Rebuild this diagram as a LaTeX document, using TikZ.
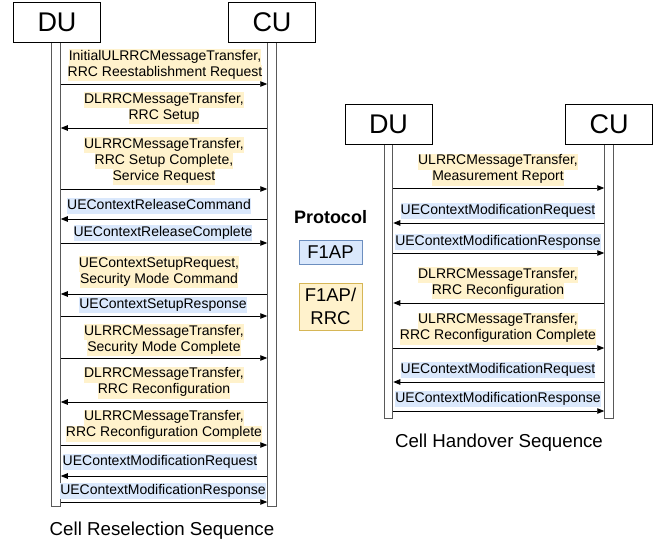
\documentclass[tikz,border=0pt]{standalone}
\usepackage{fontspec}
\setmainfont{Liberation Sans}
\usetikzlibrary{arrows.meta}
\definecolor{hly}{HTML}{FFF2CC}
\definecolor{hlb}{HTML}{DAE8FC}
\definecolor{bordy}{HTML}{D6B656}
\definecolor{bordb}{HTML}{6C8EBF}
\newcommand{\hy}[1]{{\setlength{\fboxsep}{0pt}\colorbox{hly}{\strut #1}}}
\newcommand{\hb}[1]{{\setlength{\fboxsep}{0pt}\colorbox{hlb}{\strut #1}}}
\begin{document}
\begin{tikzpicture}[x=1pt,y=-1pt,
 ent/.style={draw=black, fill=white, line width=0.8pt, minimum width=87pt, minimum height=40pt, inner sep=0pt, font=\fontsize{27}{30}\selectfont},
 life/.style={draw=black!65, fill=white, line width=1pt, minimum width=8.5pt, inner sep=0pt},
 msg/.style={-{Triangle[length=7pt,width=5.5pt]}, line width=0.8pt},
 lbl/.style={inner sep=0pt, align=center, font=\fontsize{14}{16}\selectfont},
 big/.style={inner sep=0pt, font=\fontsize{18.7}{21}\selectfont},
 proto/.style={line width=0.8pt, minimum width=63pt, inner sep=0pt, align=center, font=\fontsize{18.5}{23}\selectfont}
]
\useasboundingbox[fill=white] (0,0) rectangle (654,543);

% ---------- left: cell reselection ----------
\node[life, minimum height=463pt] (dl) at (56,274.5) {};
\node[life, minimum height=463pt] (cl) at (272,274.5) {};
\node[ent] (dub) at (57,22.5) {DU};
\node[ent] (cub) at (272,22.5) {CU};

\node[lbl] (l1) at (165,65) {\hy{InitialULRRCMessageTransfer,}\\\hy{RRC Reestablishment Request}};
\draw[msg] (dl.east |- 0,84) -- (cl.west |- 0,84);
\node[lbl] (l2) at (164,108) {\hy{DLRRCMessageTransfer,}\\\hy{RRC Setup}};
\draw[msg] (cl.west |- 0,128) -- (dl.east |- 0,128);
\node[lbl] (l3) at (164,161) {\hy{ULRRCMessageTransfer,}\\\hy{RRC Setup Complete,}\\\hy{Service Request}};
\draw[msg] (dl.east |- 0,189) -- (cl.west |- 0,189);
\node[lbl] (l4) at (159,206) {\hb{UEContextReleaseCommand}};
\draw[msg] (cl.west |- 0,219) -- (dl.east |- 0,219);
\node[lbl] (l5) at (163,233) {\hb{UEContextReleaseComplete}};
\draw[msg] (dl.east |- 0,243) -- (cl.west |- 0,243);
\node[lbl] (l6) at (159,272) {\hy{UEContextSetupRequest,}\\\hy{Security Mode Command}};
\draw[msg] (cl.west |- 0,294) -- (dl.east |- 0,294);
\node[lbl] (l7) at (163,305) {\hb{UEContextSetupResponse}};
\draw[msg] (dl.east |- 0,316) -- (cl.west |- 0,316);
\node[lbl] (l8) at (164,340) {\hy{ULRRCMessageTransfer,}\\\hy{Security Mode Complete}};
\draw[msg] (dl.east |- 0,358) -- (cl.west |- 0,358);
\node[lbl] (l9) at (164,382.5) {\hy{DLRRCMessageTransfer,}\\\hy{RRC Reconfiguration}};
\draw[msg] (cl.west |- 0,402) -- (dl.east |- 0,402);
\node[lbl] (l10) at (164,425.5) {\hy{ULRRCMessageTransfer,}\\\hy{RRC Reconfiguration Complete}};
\draw[msg] (dl.east |- 0,445) -- (cl.west |- 0,445);
\node[lbl] (l11) at (160,462) {\hb{UEContextModificationRequest}};
\draw[msg] (cl.west |- 0,476) -- (dl.east |- 0,476);
\node[lbl] (l12) at (163,491) {\hb{UEContextModificationResponse}};
\draw[msg] (dl.east |- 0,502) -- (cl.west |- 0,502);

\node[big] (capl) at (162,531) {Cell Reselection Sequence};

% ---------- protocol legend ----------
\node[inner sep=0pt, font=\fontsize{18}{20}\selectfont\bfseries] (prot) at (330.5,217) {Protocol};
\node[proto, draw=bordb, fill=hlb, minimum height=24pt] (f1) at (330.5,252) {F1AP};
\node[proto, draw=bordy, fill=hly, minimum height=47pt] (f1r) at (330.5,306.5) {F1AP/\\RRC};

% ---------- right: cell handover ----------
\node[life, minimum height=274pt] (dr) at (388.5,281) {};
\node[life, minimum height=274pt] (cr) at (609,281) {};
\node[ent] (dubr) at (388.5,124.5) {DU};
\node[ent] (cubr) at (609,124.5) {CU};

\node[lbl] (r1) at (498,169.5) {\hy{ULRRCMessageTransfer,}\\\hy{Measurement Report}};
\draw[msg] (dr.east |- 0,188) -- (cr.west |- 0,188);
\node[lbl] (r2) at (498,211) {\hb{UEContextModificationRequest}};
\draw[msg] (cr.west |- 0,223) -- (dr.east |- 0,223);
\node[lbl] (r3) at (498,242) {\hb{UEContextModificationResponse}};
\draw[msg] (dr.east |- 0,253) -- (cr.west |- 0,253);
\node[lbl] (r4) at (498,283) {\hy{DLRRCMessageTransfer,}\\\hy{RRC Reconfiguration}};
\draw[msg] (cr.west |- 0,303) -- (dr.east |- 0,303);
\node[lbl] (r5) at (498,328.5) {\hy{ULRRCMessageTransfer,}\\\hy{RRC Reconfiguration Complete}};
\draw[msg] (dr.east |- 0,348) -- (cr.west |- 0,348);
\node[lbl] (r6) at (498,370) {\hb{UEContextModificationRequest}};
\draw[msg] (cr.west |- 0,382) -- (dr.east |- 0,382);
\node[lbl] (r7) at (498,399) {\hb{UEContextModificationResponse}};
\draw[msg] (dr.east |- 0,411) -- (cr.west |- 0,411);

\node[big] (capr) at (499,443) {Cell Handover Sequence};
\end{tikzpicture}
\end{document}
